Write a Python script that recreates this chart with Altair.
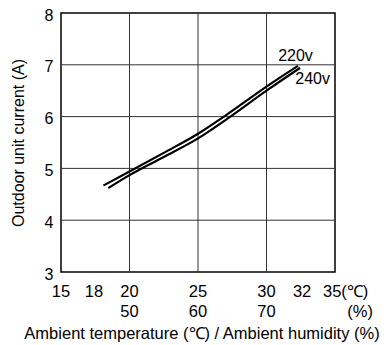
import altair as alt
import pandas as pd

# 220v curve
t220 = [18.1, 20.0, 22.5, 25.0, 27.0, 30.0, 32.3]
i220 = [4.67, 4.94, 5.30, 5.67, 6.02, 6.58, 6.98]
# 240v curve
t240 = [18.45, 20.0, 22.5, 25.0, 27.2, 30.0, 32.45]
i240 = [4.62, 4.87, 5.22, 5.58, 5.97, 6.50, 6.94]

series_names = ["220v", "240v"]
label_x = [30.85, 32.1]
label_y = [7.07, 6.63]

# x-axis tick labels (temperature row and humidity row)
temp_ticks_centered = [15, 20, 25, 30]
temp_ticks_before = [18]
temp_ticks_after = [32]
temp_unit_tick = 35
temp_unit_text = "35(\u2103)"
hum_ticks = [20, 25, 30]
hum_labels = ["50", "60", "70"]
hum_unit_text = "(%)"

y_ticks = [3, 4, 5, 6, 7, 8]
x_grid = [20, 25, 30]
y_grid = [4, 5, 6, 7]
x_domain = [15, 35]
y_domain = [3, 8]

rows = []
for name, xs, ys in [("220v", t220, i220), ("240v", t240, i240)]:
    for x, y in zip(xs, ys):
        rows.append({"series": name, "t": x, "i": y})
df = pd.DataFrame(rows)
lab = pd.DataFrame({"series": series_names, "t": label_x, "i": label_y})

FONT = "Liberation Sans"
FS = 16.5

xs = alt.Scale(domain=x_domain, nice=False, zero=False)
ys = alt.Scale(domain=y_domain, nice=False, zero=False)

x_enc = alt.X(
    "t:Q",
    scale=xs,
    axis=alt.Axis(
        labels=False,
        grid=False,
        ticks=False,
        domain=False,
        title="Ambient temperature (\u2103) / Ambient humidity (%)",
        titleFont=FONT,
        titleFontSize=FS,
        titleFontWeight="normal",
        titleColor="#000",
        titleBaseline="alphabetic",
        titleAlign="center",
        titleX=140.5,
        titleY=66,
    ),
)
y_enc = alt.Y(
    "i:Q",
    scale=ys,
    axis=alt.Axis(
        values=y_ticks,
        title="Outdoor unit current (A)",
        grid=False,
        ticks=False,
        domain=False,
        labelOverlap=False,
        labelPadding=8,
        labelOffset=2,
        labelFontSize=16,
        labelFont=FONT,
        labelColor="#000",
        titleFont=FONT,
        titleFontSize=16,
        titleFontWeight="normal",
        titleColor="#000",
        titlePadding=18,
    ),
)

grid_x = alt.Chart(pd.DataFrame({"t": x_grid})).mark_rule(
    color="#333", strokeWidth=1
).encode(x=alt.X("t:Q", scale=xs))
grid_y = alt.Chart(pd.DataFrame({"i": y_grid})).mark_rule(
    color="#333", strokeWidth=1
).encode(y=alt.Y("i:Q", scale=ys))

lines = alt.Chart(df).mark_line(
    color="black", strokeWidth=2.2, interpolate="monotone"
).encode(x=x_enc, y=y_enc, detail="series:N")

texts = alt.Chart(lab).mark_text(
    align="left", baseline="alphabetic", font=FONT, fontSize=16, color="black"
).encode(x="t:Q", y="i:Q", text="series:N")


def tick_text(vals, labels, align, dy, dx=0):
    d = pd.DataFrame({"t": vals, "lbl": labels})
    return alt.Chart(d).mark_text(
        align=align, baseline="alphabetic", font=FONT, fontSize=FS,
        color="black", dy=dy, dx=dx
    ).encode(x=alt.X("t:Q", scale=xs), y=alt.datum(y_domain[0]), text="lbl:N")


row1 = 25
row2 = 45
t_center = tick_text(temp_ticks_centered, [str(v) for v in temp_ticks_centered], "center", row1)
t_before = tick_text(temp_ticks_before, [str(v) for v in temp_ticks_before], "right", row1, 1)
t_after = tick_text(temp_ticks_after, [str(v) for v in temp_ticks_after], "left", row1, -1)
t_unit = tick_text([temp_unit_tick], [temp_unit_text], "left", row1, -12)
h_center = tick_text(hum_ticks, hum_labels, "center", row2)
h_unit = tick_text([temp_unit_tick], [hum_unit_text], "right", row2, 38)

chart = (
    alt.layer(grid_x, grid_y, lines, texts, t_center, t_before, t_after, t_unit, h_center, h_unit)
    .properties(
        width=274,
        height=259,
        autosize=alt.AutoSizeParams(type="none"),
        padding={"left": 53, "top": 5, "right": 44, "bottom": 72},
    )
    .configure_view(stroke="black", strokeWidth=1.5)
)

chart.save("out.html", embed_options={"renderer": "svg", "actions": False})
